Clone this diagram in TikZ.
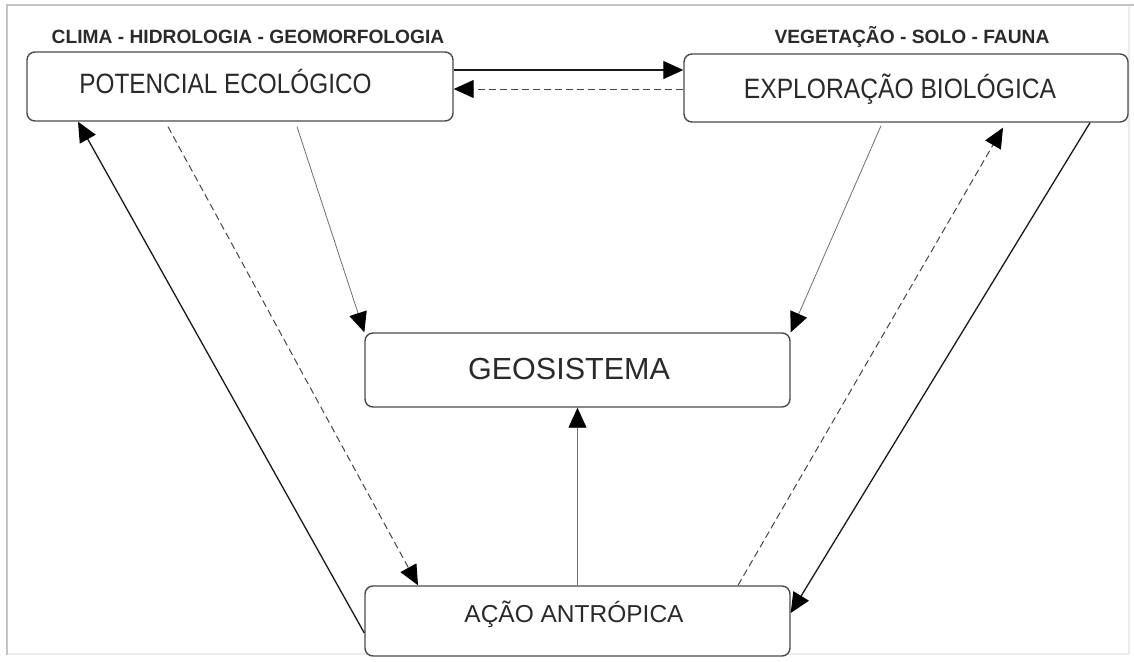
\documentclass[tikz,border=0pt]{standalone}
\usepackage{fontspec}
\setmainfont{Liberation Sans}
\usetikzlibrary{arrows.meta,calc}
\definecolor{boxline}{HTML}{4A4A4A}
\definecolor{txt}{HTML}{2A2A2A}
\definecolor{thinline}{HTML}{6E6E6E}
\definecolor{dashline}{HTML}{454545}
\definecolor{framedark}{HTML}{C4C4C4}
\definecolor{framelight}{HTML}{EDEDED}
\tikzset{
  sysbox/.style={draw=boxline, line width=1.4pt, rounded corners=8pt, fill=white, inner sep=0pt},
  boxtext/.style={text=txt, anchor=base, inner sep=0pt},
  headtext/.style={text=txt, anchor=base, inner sep=0pt, font=\fontsize{19.2}{21}\selectfont\bfseries},
  tip/.style={-{Triangle[length=20pt,width=18pt,black]}},
  solidarrow/.style={tip, draw=black!90, line width=1.3pt},
  thinarrow/.style={tip, draw=thinline, line width=0.8pt},
  dasharrow/.style={tip, draw=dashline, line width=1pt, dash pattern=on 7pt off 4pt},
}
\begin{document}
\begin{tikzpicture}[x=1pt,y=-1pt]
\useasboundingbox (0,0) rectangle (1134,661);
% frame
\draw[framelight, line width=2pt] (7,654) -- (1129,654) -- (1129,5);
\draw[framedark, line width=2pt] (7,655) -- (7,5) -- (1134,5);

% boxes
\node[sysbox, minimum width=426pt, minimum height=69pt] (pe) at (240,86.5) {};
\node[sysbox, minimum width=444pt, minimum height=68pt] (eb) at (906,88) {};
\node[sysbox, minimum width=425pt, minimum height=74pt] (geo) at (577.5,370) {};
\node[sysbox, minimum width=425pt, minimum height=70pt] (ac) at (577.5,621) {};

% texts
\node[boxtext, font=\fontsize{28}{30}\selectfont] (pet) at (225.5,93) {\scalebox{0.87}[1]{POTENCIAL ECOLÓGICO}};
\node[boxtext, font=\fontsize{28}{30}\selectfont] (ebt) at (900,98) {\scalebox{0.88}[1]{EXPLORAÇÃO BIOLÓGICA}};
\node[boxtext, font=\fontsize{30.5}{32}\selectfont] (geot) at (569,379) {GEOSISTEMA};
\node[boxtext, font=\fontsize{24.5}{26}\selectfont] (act) at (574,622) {AÇÃO ANTRÓPICA};
\node[headtext] (h1) at (248,44) {CLIMA - HIDROLOGIA - GEOMORFOLOGIA};
\node[headtext] (h2) at (912,44) {VEGETAÇÃO - SOLO - FAUNA};

% connectors
\draw[solidarrow] (pe.east |- 0,70) -- (eb.west |- 0,70);
\draw[dasharrow] (eb.west |- 0,89) -- (pe.east |- 0,89);
\draw[dasharrow] ($(pe.south -| 168,0)+(0,5)$) -- (ac.north -| 418,0);
\draw[thinarrow] ($(pe.south -| 297,0)+(0,5)$) -- (geo.north west);
\draw[solidarrow] (ac.west |- 0,633) -- (pe.south -| 78,0);
\draw[thinarrow] ($(eb.south -| 881,0)+(0,3)$) -- (geo.north east);
\draw[dasharrow] (ac.north -| 738,0) -- ($(eb.south -| 1003,0)+(0,5)$);
\draw[solidarrow] (eb.south -| 1090,0) -- (ac.east |- 0,613);
\draw[thinarrow] (ac.north) -- (geo.south);
\end{tikzpicture}
\end{document}
